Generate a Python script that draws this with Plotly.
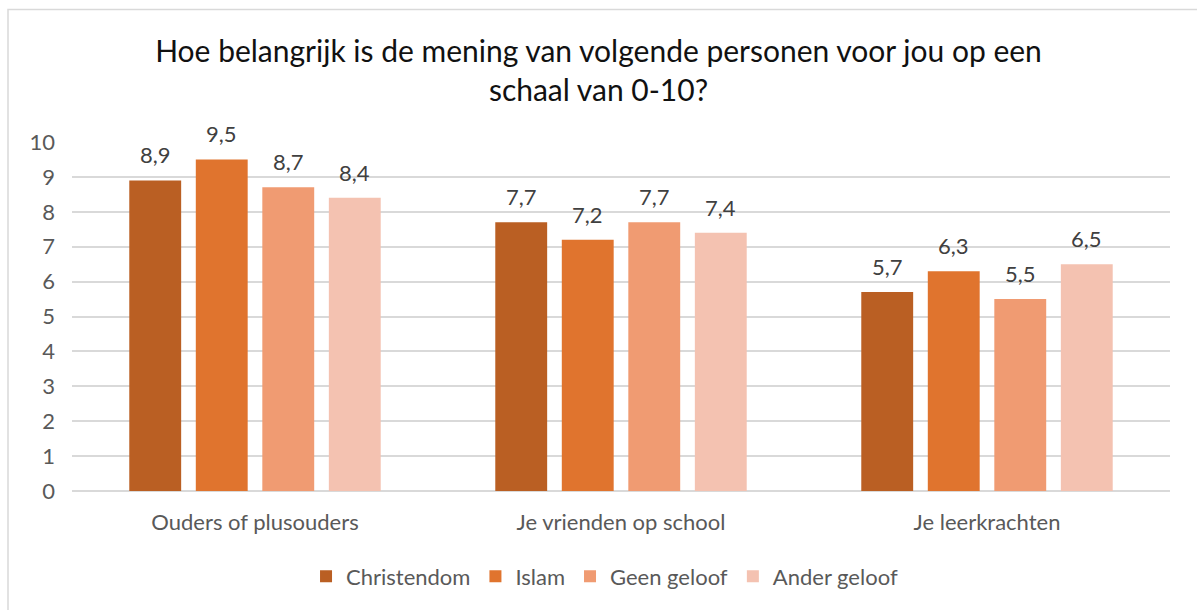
import plotly.graph_objects as go

categories = ["Ouders of plusouders", "Je vrienden op school", "Je leerkrachten"]
series_names = ["Christendom", "Islam", "Geen geloof", "Ander geloof"]
christendom = [8.9, 7.7, 5.7]
islam = [9.5, 7.2, 6.3]
geen_geloof = [8.7, 7.7, 5.5]
ander_geloof = [8.4, 7.4, 6.5]
y_ticks = list(range(0, 11))

values = [christendom, islam, geen_geloof, ander_geloof]
colors = ["#BA5F23", "#E0742E", "#F09B72", "#F4C2B1"]

font_family = "Lato, 'Open Sans', sans-serif"
label_size = 22

fig = go.Figure()
for name, vals, col in zip(series_names, values, colors):
    fig.add_trace(go.Bar(
        name=name,
        x=categories,
        y=vals,
        marker=dict(color=col, line=dict(width=0)),
        cliponaxis=False,
    ))

# value labels above each bar, horizontally offset to the bar's slot in the group
slot_px = 66.5
n = len(series_names)
for i, vals in enumerate(values):
    offset = (i - (n - 1) / 2) * slot_px
    for cat, v in zip(categories, vals):
        fig.add_annotation(
            x=cat, y=v, xref="x", yref="y",
            text=f"{v:.1f}".replace(".", ","),
            showarrow=False,
            xshift=offset, yshift=10,
            yanchor="bottom",
            font=dict(size=label_size, color="#404040", family=font_family),
        )

fig.update_layout(
    width=1197,
    height=610,
    barmode="group",
    bargap=0.273,
    bargroupgap=0.22,
    paper_bgcolor="white",
    plot_bgcolor="white",
    margin=dict(l=72, r=27, t=142, b=117),
    title=dict(
        text="Hoe belangrijk is de mening van volgende personen voor jou op een<br>schaal van 0-10?",
        x=0.5, xanchor="center",
        y=0.898, yanchor="top",
        font=dict(size=30, color="#111111", family=font_family),
    ),
    font=dict(family=font_family, color="#595959", size=label_size),
    xaxis=dict(
        showgrid=False,
        showline=False,
        ticks="",
        tickfont=dict(size=label_size, color="#595959"),
        ticklabelstandoff=16,
    ),
    yaxis=dict(
        range=[0, 10],
        tickvals=y_ticks,
        showgrid=True,
        gridcolor="#D9D9D9",
        gridwidth=1.5,
        zeroline=True,
        zerolinecolor="#D9D9D9",
        zerolinewidth=1.5,
        tickfont=dict(size=label_size, color="#595959"),
        ticklabelstandoff=16,
    ),
    legend=dict(
        orientation="h",
        x=0.485, xanchor="center",
        y=-0.185, yanchor="top",
        font=dict(size=label_size, color="#595959"),
        itemwidth=30,
        traceorder="normal",
    ),
    showlegend=True,
)

# light chart-area border
fig.add_shape(
    type="rect", xref="paper", yref="paper",
    x0=-64 / 1098, x1=1.05, y0=-0.97, y1=1.38,
    line=dict(color="#D9D9D9", width=1.5),
    layer="below",
)

fig.write_html("out.html")
